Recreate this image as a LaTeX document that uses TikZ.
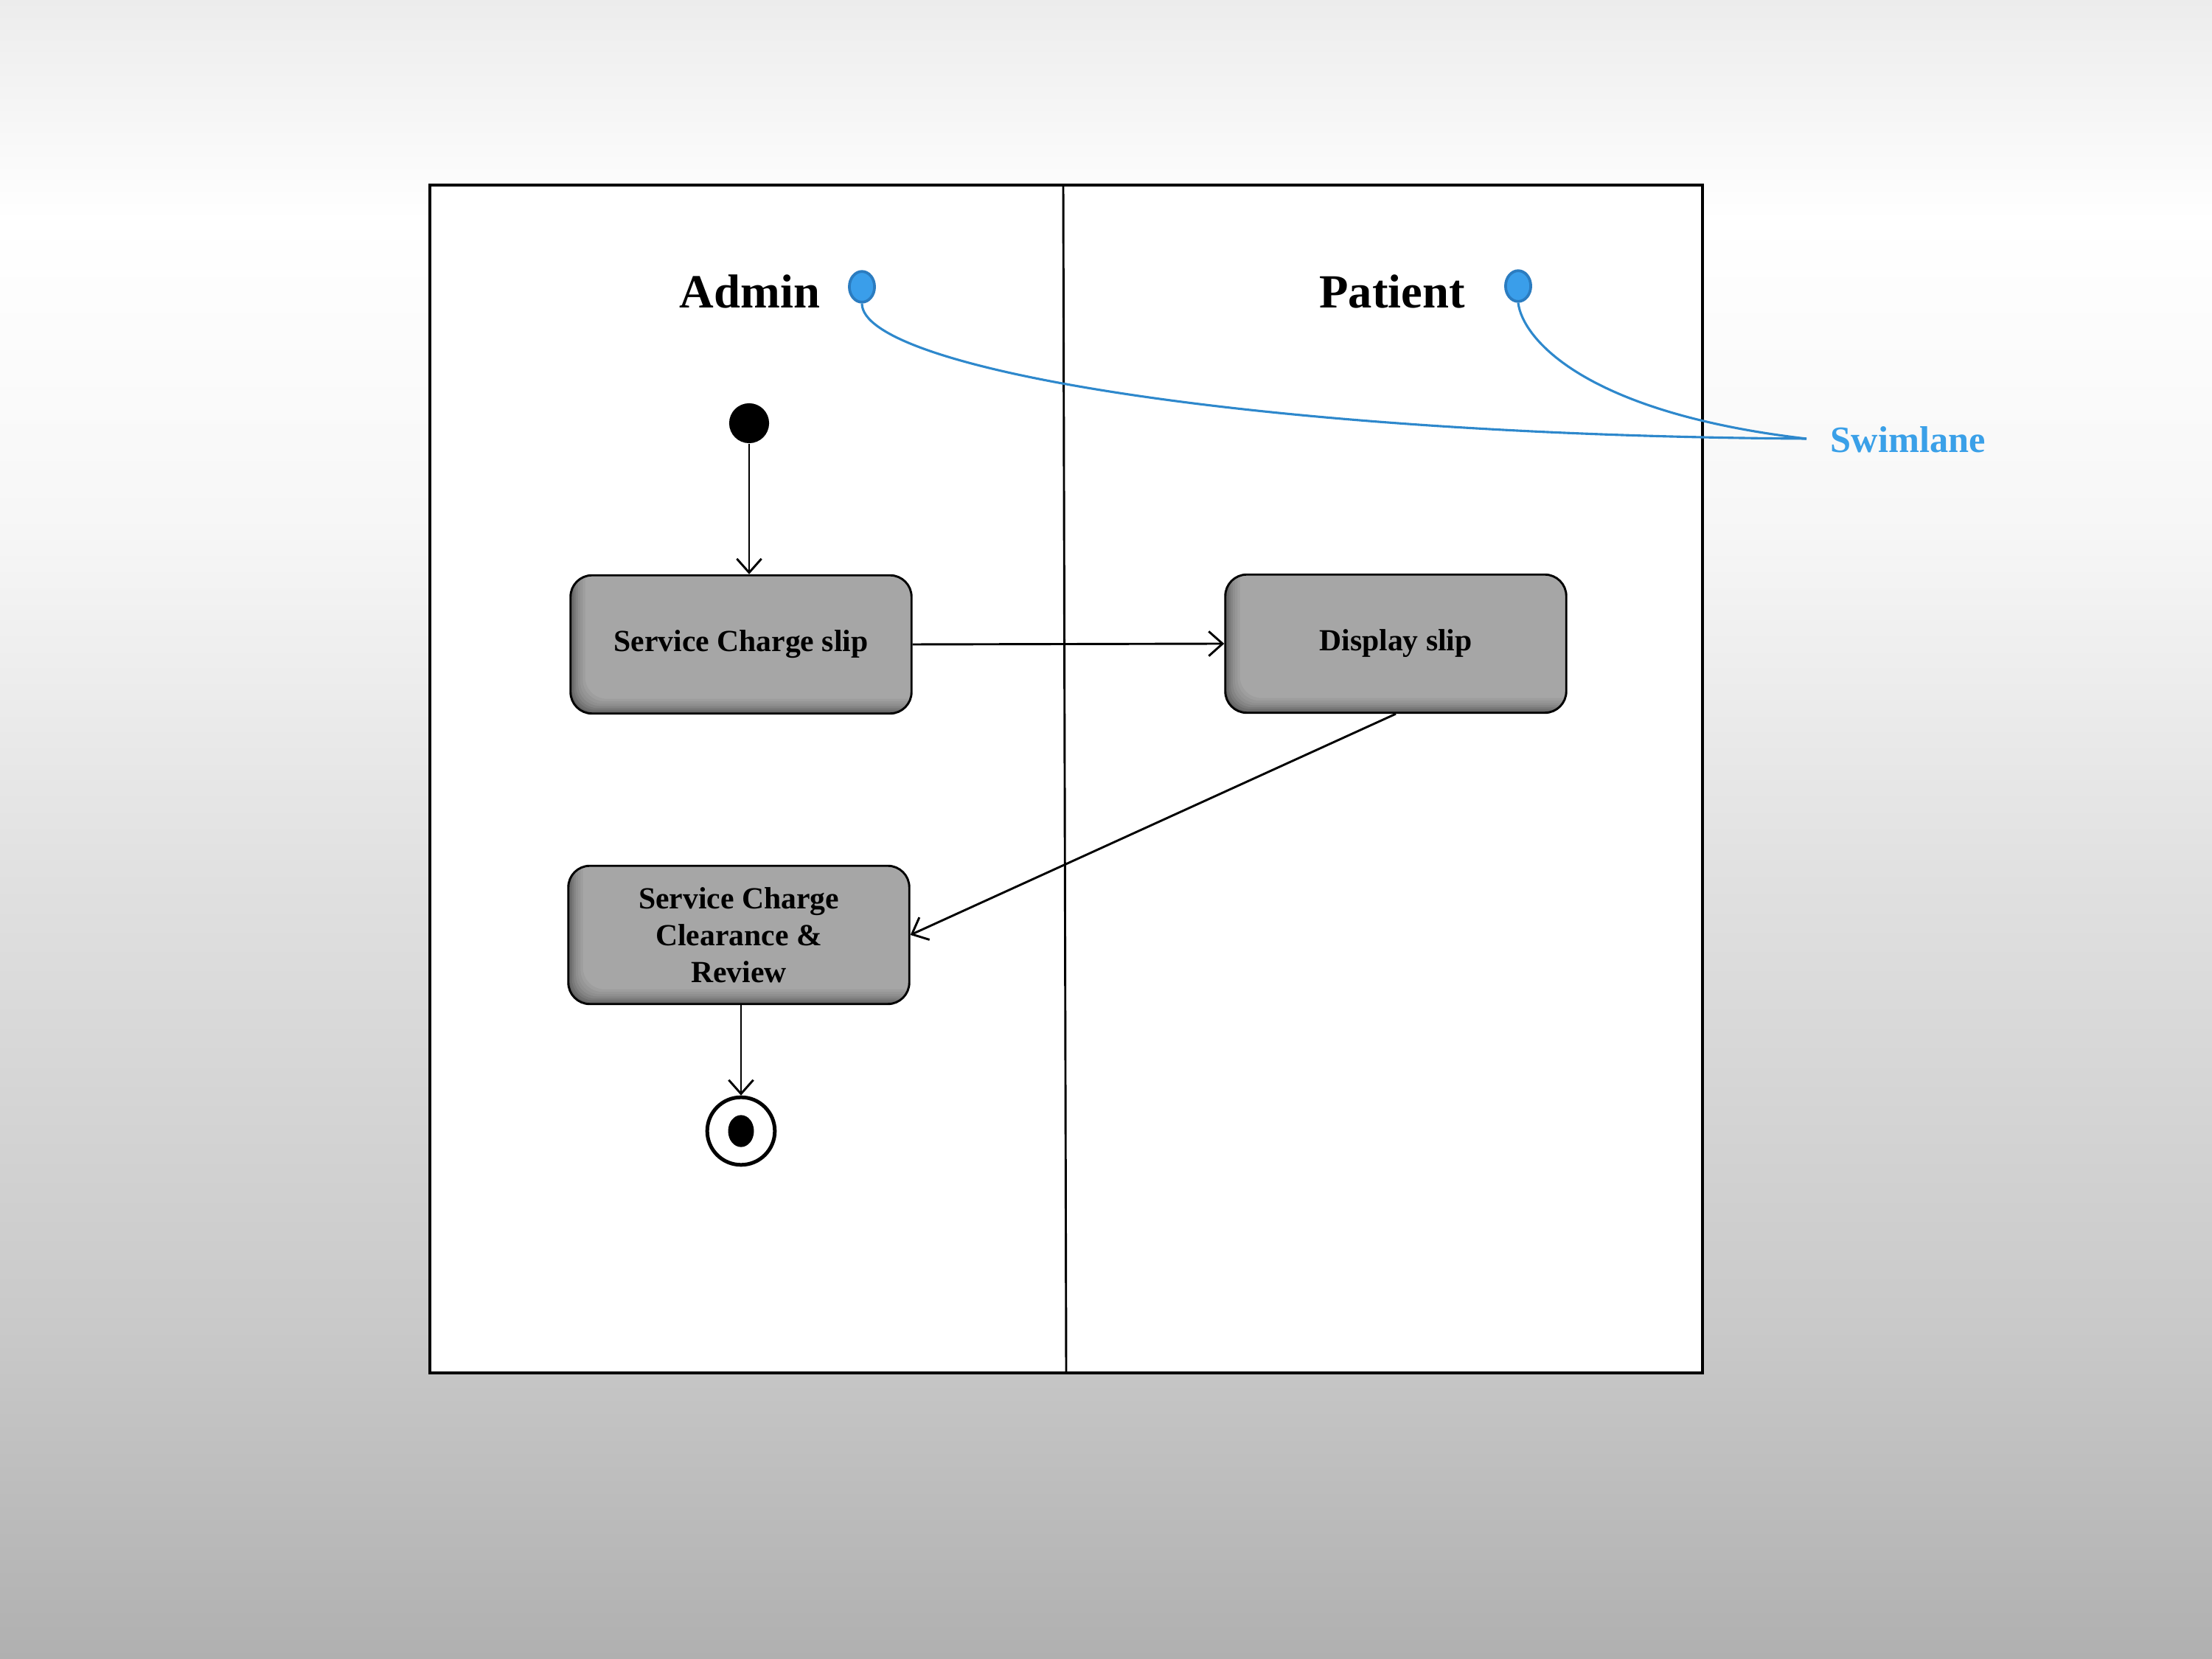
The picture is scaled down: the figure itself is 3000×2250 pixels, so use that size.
\documentclass[tikz,border=0pt]{standalone}
\usepackage{fontspec}
\setmainfont{Liberation Serif}
\usetikzlibrary{arrows.meta,shapes.geometric}
\definecolor{bgA}{HTML}{B0B0B0}
\definecolor{bgB}{HTML}{C9C9C9}
\definecolor{bgC}{HTML}{E0E0E0}
\definecolor{bgD}{HTML}{F7F7F7}
\definecolor{bgE}{HTML}{FFFFFF}
\definecolor{bgF}{HTML}{ECECEC}
\definecolor{dotfill}{HTML}{3A9EEA}
\definecolor{dotline}{HTML}{2B7CC0}
\definecolor{curveblue}{HTML}{2E88CC}
\definecolor{swimblue}{HTML}{3AA0E8}
\definecolor{actgray}{HTML}{A6A6A6}
\pgfdeclareverticalshading{bgshade}{100bp}{color(0bp)=(bgA); color(25bp)=(bgA); color(35bp)=(bgB); color(48.35bp)=(bgC); color(59.45bp)=(bgD); color(68.35bp)=(bgE); color(75bp)=(bgF); color(100bp)=(bgF)}
\begin{document}
\begin{tikzpicture}[x=0.24pt,y=-0.24pt,
  activity/.style={draw=black, line width=0.7pt, rounded corners=7pt, fill=actgray,
    minimum width=111pt, minimum height=45pt, align=center, inner sep=2pt,
    font=\bfseries\fontsize{10}{12}\selectfont,
    path picture={
      \foreach \s/\k in {0/62,0.6/57,1.2/52,1.8/48,2.5/44,3.2/41,4/38,4.8/35}{
        \fill[black!\k, rounded corners=7pt]
          ([xshift=\s pt,yshift=\s pt]path picture bounding box.south west) rectangle
          ([xshift=\s pt+12pt,yshift=\s pt+12pt]path picture bounding box.north east);
      }
    }},
  lanetitle/.style={font=\bfseries\fontsize{15.5}{18}\selectfont, inner sep=0pt, anchor=base},
  bluedot/.style={ellipse, draw=dotline, line width=0.9pt, fill=dotfill, minimum width=8.2pt, minimum height=10pt, inner sep=0pt},
  swimcurve/.style={draw=curveblue, line width=0.75pt},
  flow/.style={draw=black, line width=0.7pt, -{Straight Barb[length=4.5pt,width=8pt,line width=0.7pt]}}
]
\useasboundingbox (0,0) rectangle (3000,2250);
\fill[shading=bgshade] (0,0) rectangle (3000,2250);

% swimlane frame
\draw[line width=1pt, fill=white] (583,251) rectangle (2309,1862);
\draw[line width=0.7pt] (1442,251) -- (1446,1862);

% lane titles
\node[lanetitle] (admin) at (1017,418) {Admin};
\node[lanetitle] (patient) at (1888,418) {Patient};

% annotation
\node[bluedot] (adot) at (1169,389) {};
\node[bluedot] (pdot) at (2059,388) {};
\node[font=\bfseries\fontsize{12.1}{14}\selectfont, text=swimblue, inner sep=0pt, anchor=base west] (swim) at (2482,614) {Swimlane};
\coordinate (swend) at (2450,595);
\draw[swimcurve] (adot.south) .. controls (1169,500) and (1700,590) .. (swend);
\draw[swimcurve] (pdot.south) .. controls (2065,460) and (2150,560) .. (swend);

% activity nodes
\node[circle, fill=black, minimum size=13pt, inner sep=0pt] (init) at (1016,574) {};
\node[activity] (slip) at (1005,874) {Service Charge slip};
\node[activity] (disp) at (1893,873) {Display slip};
\node[activity] (clear) at (1002,1268) {Service Charge\\Clearance \&\\Review};
\node[circle, draw=black, line width=1.2pt, fill=white, minimum size=22pt, inner sep=0pt] (final) at (1005,1534) {};
\node[ellipse, fill=black, minimum width=8.4pt, minimum height=10.4pt, inner sep=0pt] (finaldot) at (final) {};

% flows
\draw[flow] (init) -- (init |- slip.north);
\draw[flow] (slip.east) -- (disp.west);
\draw[flow] (disp.south) -- (clear.east);
\draw[flow] (final |- clear.south) -- (final.north);
\end{tikzpicture}
\end{document}
